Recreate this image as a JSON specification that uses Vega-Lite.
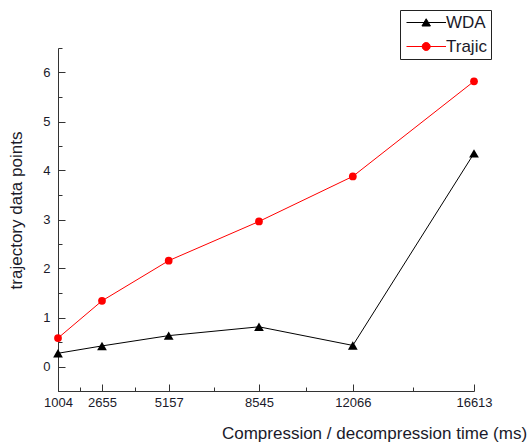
{
  "$schema": "https://vega.github.io/schema/vega-lite/v6.json",
  "width": 416,
  "height": 343,
  "autosize": "none",
  "padding": {"left": 58, "top": 48, "right": 56, "bottom": 52},
  "background": "white",
  "config": {"view": {"stroke": null}, "font": "Liberation Sans"},
  "data": {
    "values": [
      {"time": 1004, "series": "WDA", "value": 0.27},
      {"time": 2655, "series": "WDA", "value": 0.42},
      {"time": 5157, "series": "WDA", "value": 0.63},
      {"time": 8545, "series": "WDA", "value": 0.81},
      {"time": 12066, "series": "WDA", "value": 0.43},
      {"time": 16613, "series": "WDA", "value": 4.35},
      {"time": 1004, "series": "Trajic", "value": 0.58},
      {"time": 2655, "series": "Trajic", "value": 1.34},
      {"time": 5157, "series": "Trajic", "value": 2.16},
      {"time": 8545, "series": "Trajic", "value": 2.96},
      {"time": 12066, "series": "Trajic", "value": 3.88},
      {"time": 16613, "series": "Trajic", "value": 5.82}
    ]
  },
  "layer": [
    {
      "mark": {"type": "point", "opacity": 0},
      "encoding": {
        "x": {"field": "time", "type": "quantitative",
          "scale": {"domain": [1004, 16613], "nice": false, "zero": false},
          "axis": {"orient": "bottom", "values": [1829.5, 3906, 6851, 10305.5, 14339.5], "labels": false, "domain": false, "grid": false, "tickSize": -4, "tickColor": "#333", "title": null}},
        "y": {"field": "value", "type": "quantitative",
          "scale": {"domain": [-0.5, 6.5], "nice": false, "zero": false},
          "axis": {"orient": "left", "values": [-0.5, 0.5, 1.5, 2.5, 3.5, 4.5, 5.5, 6.5], "labels": false, "domain": false, "grid": false, "tickSize": -4, "tickColor": "#333", "title": null}}
      }
    },
    {
      "layer": [
        {
          "mark": {"type": "line", "strokeWidth": 1}
        },
        {
          "transform": [{"filter": "datum.series === 'WDA'"}],
          "mark": {"type": "point", "filled": true, "opacity": 1, "shape": "triangle-up", "size": 95}
        },
        {
          "transform": [{"filter": "datum.series === 'Trajic'"}],
          "mark": {"type": "point", "filled": true, "opacity": 1, "shape": "circle", "size": 60}
        }
      ],
      "encoding": {
        "x": {"field": "time", "type": "quantitative",
          "scale": {"domain": [1004, 16613], "nice": false, "zero": false},
          "axis": {"orient": "bottom", "values": [1004, 2655, 5157, 8545, 12066, 16613], "grid": false, "format": "d",
            "tickSize": -7, "tickColor": "#333", "domainColor": "#333", "labelPadding": 12,
            "labelFontSize": 13, "labelColor": "#1a1a2a", "labelFlush": false,
            "title": "Compression / decompression time (ms)", "titleFontSize": 17, "titleFontWeight": "normal",
            "titleColor": "#1a1a2a", "titleX": 316, "titleY": 47, "titleAlign": "center", "titleBaseline": "alphabetic"}},
        "y": {"field": "value", "type": "quantitative",
          "scale": {"domain": [-0.5, 6.5], "nice": false, "zero": false},
          "axis": {"orient": "left", "values": [0, 1, 2, 3, 4, 5, 6], "grid": false, "format": "d",
            "tickSize": -7, "tickColor": "#333", "domainColor": "#333", "labelPadding": 15,
            "labelFontSize": 13, "labelColor": "#1a1a2a",
            "title": "trajectory data points", "titleFontSize": 17, "titleFontWeight": "normal",
            "titleColor": "#1a1a2a", "titleX": -37, "titleY": 162, "titleAlign": "center", "titleBaseline": "alphabetic", "titleAngle": -90}},
        "color": {"field": "series", "type": "nominal",
          "scale": {"domain": ["WDA", "Trajic"], "range": ["black", "red"]},
          "legend": {
            "orient": "none", "legendX": 342, "legendY": -38,
            "title": null, "strokeColor": "#222", "fillColor": "white",
            "padding": 4, "symbolSize": 100, "symbolOffset": 0, "labelOffset": 25,
            "labelFontSize": 17, "labelColor": "#1a1a2a", "rowPadding": 6,
            "symbolStrokeWidth": 1,
            "encode": {
              "symbols": {
                "update": {
                  "shape": {"signal": "datum.value === 'WDA' ? 'M-1.2,0H6.7M2.74,-0.75L3.59,0.7H1.89Z' : 'M-1.2,0H6.7M3.54,0A0.8,0.8,0,1,1,1.94,0A0.8,0.8,0,1,1,3.54,0Z'"},
                  "fill": {"signal": "datum.value === 'WDA' ? 'black' : 'red'"},
                  "stroke": {"signal": "datum.value === 'WDA' ? 'black' : 'red'"},
                  "strokeWidth": {"value": 1},
                  "opacity": {"value": 1}
                }
              }
            }
          }
        }
      }
    }
  ],
  "resolve": {"axis": {"x": "independent", "y": "independent"}}
}
